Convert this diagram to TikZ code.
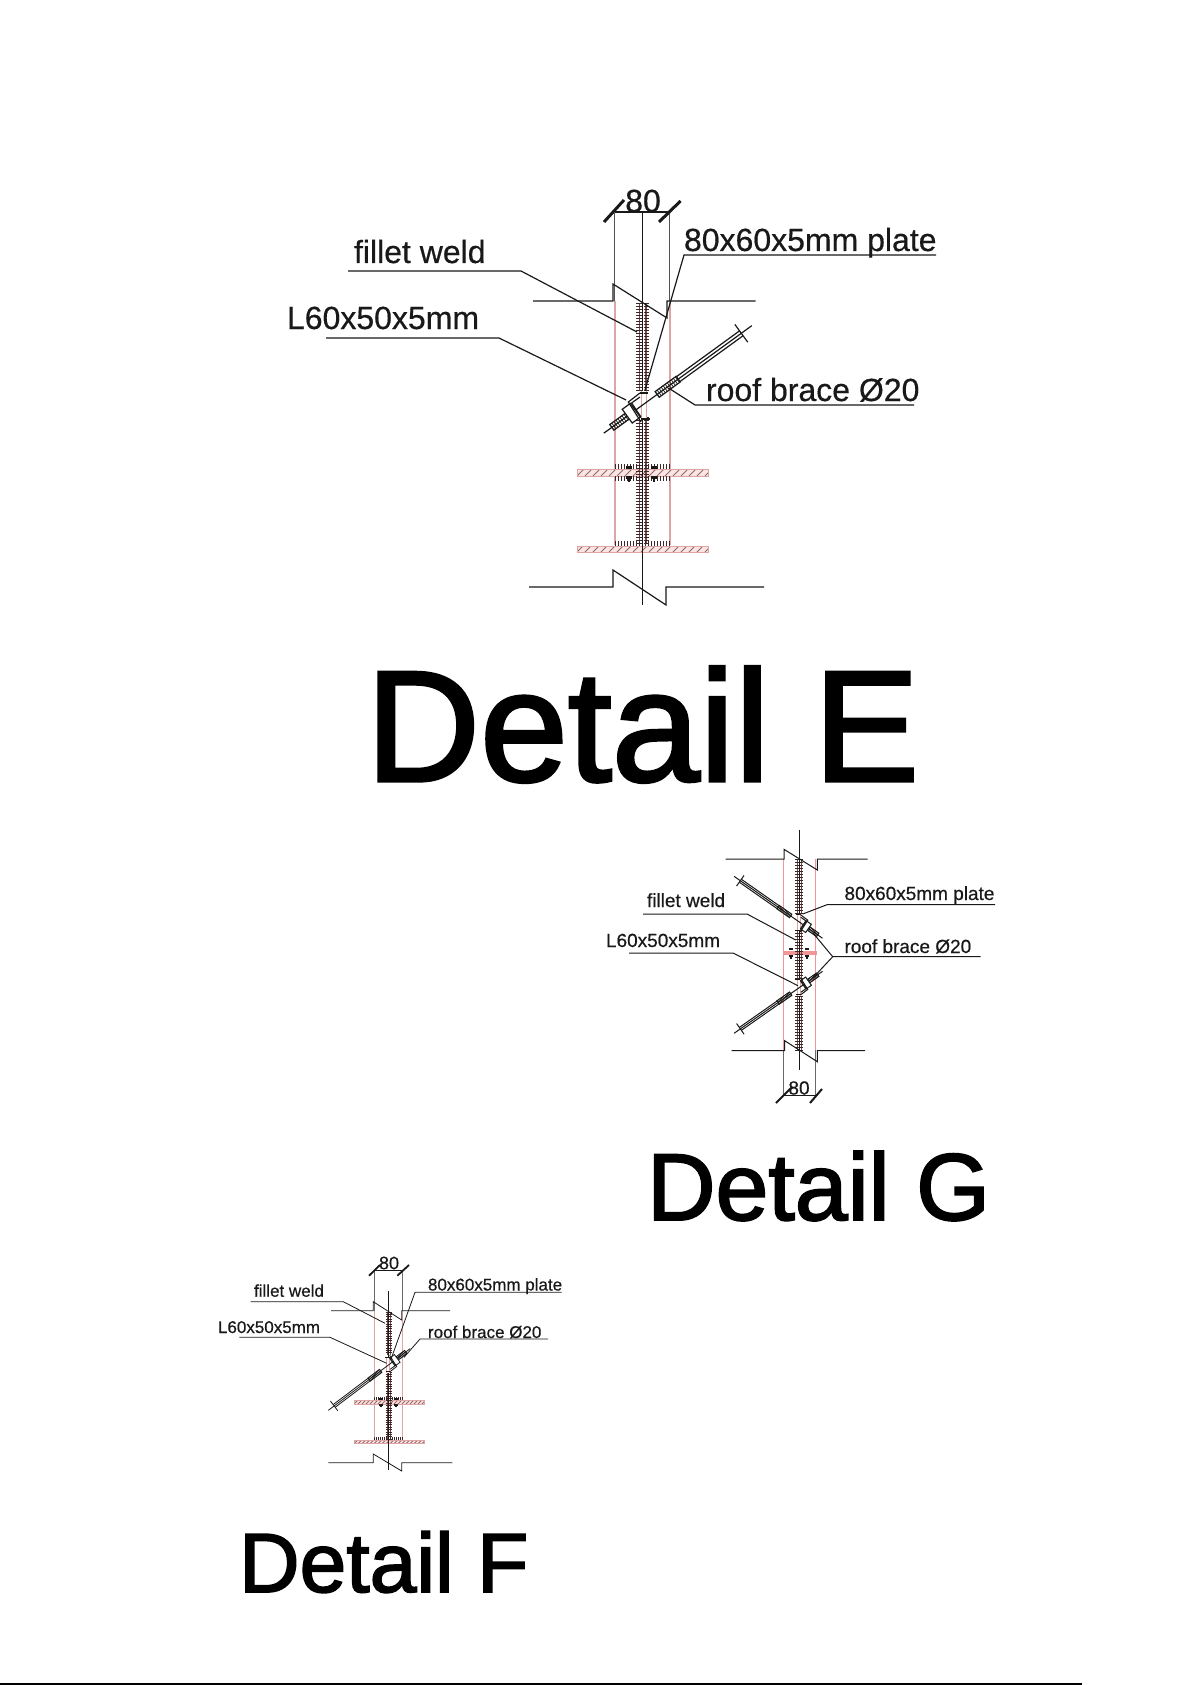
\documentclass[tikz,border=0pt]{standalone}
\usepackage{fontspec}
\setmainfont{Liberation Sans}
\newfontfamily\ttlfont[FakeBold=2]{Liberation Sans}
\newfontfamily\labfont[FakeBold=0.5]{Liberation Sans}
\definecolor{ink}{RGB}{25,25,25}
\definecolor{redline}{RGB}{222,165,165}
\definecolor{brightred}{RGB}{240,150,150}
\definecolor{weldred}{RGB}{120,70,70}
\definecolor{weldtick}{RGB}{60,40,40}
\definecolor{platefill}{RGB}{250,228,228}
\definecolor{hatchc}{RGB}{150,105,105}
\newcommand\txtsz[1]{\fontsize{#1}{#1}\selectfont}
\def\lw{1.2}
\tikzset{
  ln/.style={draw=ink,line width=\lw pt},
  redl/.style={draw=redline,line width=\lw pt},
  lab/.style={anchor=base west,inner sep=0pt,outer sep=0pt,text=ink,font=\labfont},
  ttl/.style={anchor=base west,inner sep=0pt,outer sep=0pt,text=black,font=\ttlfont},
  dimt/.style={anchor=center,inner sep=0pt,outer sep=0pt,text=ink,font=\labfont}
}
% weld column: xc, y1, y2, pitch, half width
\newcommand\weldcol[5]{%
  \draw[draw=weldred,line width=\lw pt] (#1-0.55*#5,#2) -- (#1-0.55*#5,#3);
  \draw[draw=weldred,line width=\lw pt] (#1+0.55*#5,#2) -- (#1+0.55*#5,#3);
  \pgfmathtruncatemacro\nticks{(#3-#2)/#4}
  \foreach \i in {0,...,\nticks}{
    \draw[draw=weldtick,line width=0.8pt] (#1-#5,#2+\i*#4) -- (#1-0.15*#5,#2+\i*#4)
      (#1+0.15*#5,#2+\i*#4) -- (#1+#5,#2+\i*#4);
  }}
% row of ticks: x1, x2, y1, y2, pitch
\newcommand\tickrow[5]{%
  \pgfmathtruncatemacro\nticks{(#2-#1)/#5}
  \foreach \i in {0,...,\nticks}{
    \draw[draw=weldtick,line width=0.8pt] (#1+\i*#5,#3) -- (#1+\i*#5,#4);
  }}
% hatched plate: x1, x2, y1, y2, pitch
\newcommand\hatchplate[5]{%
  \fill[platefill] (#1,#3) rectangle (#2,#4);
  \begin{scope}
  \clip (#1,#3) rectangle (#2,#4);
  \pgfmathtruncatemacro\nticks{(#2-#1)/#5}
  \foreach \i in {0,...,\nticks}{
    \draw[draw=hatchc,line width=0.9pt] (#1+\i*#5,#4) -- (#1+\i*#5+#4-#3,#3);
  }
  \end{scope}
  \draw[draw=redline,line width=0.9pt] (#1,#3) rectangle (#2,#4);}
% bolt: x, top nut y, bottom nut y, size
\newcommand\boltpair[4]{%
  \fill[ink] (#1-#4,#2-#4) rectangle (#1+#4,#2);
  \fill[ink] (#1-#4,#3) rectangle (#1+#4,#3+#4);
  \fill[ink] (#1-0.45*#4,#3+#4) rectangle (#1+0.45*#4,#3+2*#4);}
% joint: x, y, xscale, yscale, rotation (E size local coordinates)
\newcommand\jointpic[5]{%
  \begin{scope}[shift={(#1,#2)},xscale=#3,yscale=#4]
    \fill[white] (-1.5,-14) rectangle (3.5,13);
    \draw[redl] (-1.5,-14) -- (-1.5,13) (3.5,-14) -- (3.5,13);
    \begin{scope}[rotate=#5]
      \draw[ln] (-48,0) -- (135,0);
      \draw[ln] (44,-3) -- (122,-3) (44,3) -- (122,3);
      \draw[ln] (122,-11) -- (122,11);
      \draw[ln] (18,-3.5) rectangle (44,3.5);
      \foreach \t in {18,20.5,...,44}{\draw[draw=ink,line width=0.7pt] (\t,-3.5) -- (\t,3.5);}
      \draw[ln] (-38,-3.5) rectangle (-12,3.5);
      \foreach \t in {-38,-35.5,...,-12}{\draw[draw=ink,line width=0.7pt] (\t,-3.5) -- (\t,3.5);}
      \draw[ln,fill=white] (-19,-8.5) rectangle (-9,8.5);
    \end{scope}
    \draw[ln] (-2.6,-12) -- (-14.3,-3) -- (-1.6,17);
    \draw[ln] (-2.6,-8) -- (-11,-2) -- (-1.6,12);
    \draw[ln] (-1.6,14) -- (7,14) (-2.6,-12) -- (5,-12);
  \end{scope}}
\begin{document}
\begin{tikzpicture}[x=1pt,y=-1pt]
\useasboundingbox (0,0) rectangle (1192,1685);
\fill[white] (0,0) rectangle (1192,1685);
%% ---------- Detail E ----------
\def\lw{1.2}
\draw[redl] (615,301) -- (615,545) (670,301) -- (670,545);
\draw[ln,draw=ink!75] (614.5,213) -- (614.5,301) (669.5,213) -- (669.5,301);
\hatchplate{577}{708}{469}{476}{8}
\hatchplate{577}{708}{546}{552}{8}
\weldcol{642.6}{303}{390}{3}{6.2}
\weldcol{642.6}{417}{543}{3}{6.2}
\tickrow{615}{670}{464}{469}{3}
\tickrow{615}{670}{476}{481}{3}
\tickrow{615}{670}{541}{546}{3}
\boltpair{629}{469}{476}{3}
\boltpair{654}{469}{476}{3}
\draw[ln] (642.6,213) -- (642.6,605);
\jointpic{642.6}{405}{1}{1}{36}
\draw[ln] (533,301) -- (613,301) -- (613,284) -- (667,318) -- (667,301) -- (755.5,301);
\draw[ln] (529,587) -- (613,587) -- (613,570) -- (666,605) -- (666,587) -- (764,587);
\draw[ln] (614.5,212) -- (669.5,212);
\draw[draw=ink,line width=3pt] (604,222) -- (624,200) (659,222) -- (680.5,201);
\node[dimt] (eDim) at (643,201) {\txtsz{32}80};
\node[lab] (eWeld) at (354,263) {\txtsz{32}fillet weld};
\node[lab] (ePlate) at (684,251) {\txtsz{32}80x60x5mm plate};
\node[lab] (eAngle) at (287,329) {\txtsz{32}L60x50x5mm};
\node[lab] (eBrace) at (706,401) {\txtsz{32}roof brace Ø20};
\coordinate (eW1) at (348,271); \coordinate (eW2) at (521,271); \coordinate (eW3) at (637,332);
\coordinate (eP1) at (936,255); \coordinate (eP2) at (684,255); \coordinate (eP3) at (645,390);
\coordinate (eA1) at (326,338); \coordinate (eA2) at (499,338); \coordinate (eA3) at (626,400);
\coordinate (eB1) at (914,405); \coordinate (eB2) at (695,405); \coordinate (eB3) at (668.5,388);
\draw[ln] (eW1) -- (eW2) -- (eW3);
\draw[ln] (eP1) -- (eP2) -- (eP3);
\draw[ln] (eA1) -- (eA2) -- (eA3);
\draw[ln] (eB1) -- (eB2) -- (eB3);
\node[ttl] (eTitle) at (366,781) {\txtsz{158}Detail E};
%% ---------- Detail G ----------
\def\lw{1}
\draw[draw=brightred,line width=\lw pt] (783.3,859) -- (783.3,1050) (815.7,859) -- (815.7,1050);
\draw[ln,draw=ink!65] (783.3,1050) -- (783.3,1095) (815.7,1050) -- (815.7,1095);
\fill[brightred] (782.7,950.5) rectangle (816.7,954.5);
\weldcol{799.3}{859}{914}{3}{4}
\weldcol{799.3}{930}{980}{3}{4}
\weldcol{799.3}{996}{1050}{3}{4}
\boltpair{791}{950}{955}{2}
\boltpair{807}{950}{955}{2}
\draw[ln] (799.3,830) -- (799.3,1070);
\jointpic{799.3}{922}{-0.59}{0.59}{35}
\jointpic{799.3}{987.6}{-0.59}{-0.59}{35}
\draw[ln] (725.7,859) -- (784,859) -- (784,849.3) -- (817.3,870) -- (817.3,859) -- (867.7,859);
\draw[ln] (731.7,1050.7) -- (784.7,1050.7) -- (784.7,1040.7) -- (817.3,1061.7) -- (817.3,1050.7) -- (865,1050.7);
\draw[ln] (783.3,1095) -- (815.7,1095);
\draw[draw=ink,line width=2pt] (776,1103) -- (792,1087) (810,1103) -- (822,1089);
\node[dimt] (gDim) at (799,1088) {\txtsz{19}80};
\node[lab] (gWeld) at (647,907) {\txtsz{19}fillet weld};
\node[lab] (gPlate) at (844.5,900) {\txtsz{19}80x60x5mm plate};
\node[lab] (gAngle) at (606,947) {\txtsz{19}L60x50x5mm};
\node[lab] (gBrace) at (844.5,953) {\txtsz{19}roof brace Ø20};
\coordinate (gW1) at (643,914); \coordinate (gW2) at (747,914); \coordinate (gW3) at (795.7,940);
\coordinate (gP1) at (995,904.7); \coordinate (gP2) at (827,904.7); \coordinate (gP3) at (802.7,914);
\coordinate (gA1) at (629,953); \coordinate (gA2) at (733,953); \coordinate (gA3) at (798,985.7);
\coordinate (gB1) at (980.7,956.7); \coordinate (gB2) at (832.7,956.7); \coordinate (gB3) at (813,933); \coordinate (gB4) at (814,976.7);
\draw[ln] (gW1) -- (gW2) -- (gW3);
\draw[ln] (gP1) -- (gP2) -- (gP3);
\draw[ln] (gA1) -- (gA2) -- (gA3);
\draw[ln] (gB1) -- (gB2) -- (gB3);
\draw[ln] (gB2) -- (gB4);
\node[ttl] (gTitle) at (647,1220) {\txtsz{95}Detail G};
%% ---------- Detail F ----------
\def\lw{0.8}
\draw[redl] (374.3,1310.7) -- (374.3,1440) (402.3,1310.7) -- (402.3,1440);
\draw[ln,draw=ink!65] (374.3,1270) -- (374.3,1310.7) (402.3,1270) -- (402.3,1310.7);
\hatchplate{354}{424}{1400}{1404}{4}
\hatchplate{354}{424}{1440}{1443.7}{4}
\weldcol{388.7}{1312}{1355}{2.4}{3.2}
\weldcol{388.7}{1372}{1440}{2.4}{3.2}
\tickrow{374}{402}{1437}{1440}{2}
\tickrow{374}{402}{1397}{1400}{2}
\boltpair{381}{1400}{1404}{1.6}
\boltpair{396}{1400}{1404}{1.6}
\draw[ln] (388.7,1290.7) -- (388.7,1470);
\jointpic{388.7}{1364.8}{-0.56}{-0.56}{37}
\draw[ln] (331,1310.7) -- (373.3,1310.7) -- (373.3,1301.7) -- (401.7,1320) -- (401.7,1310.7) -- (450,1310.7);
\draw[ln] (328.3,1462.7) -- (373.3,1462.7) -- (373.3,1454) -- (401.7,1471) -- (401.7,1462.7) -- (452.3,1462.7);
\draw[ln] (374.3,1270) -- (402.3,1270);
\draw[draw=ink,line width=1.8pt] (369,1275.7) -- (380,1265) (397.3,1275.7) -- (409,1265);
\node[dimt] (fDim) at (389,1263) {\txtsz{18}80};
\node[lab] (fWeld) at (254,1296.7) {\txtsz{17}fillet weld};
\node[lab] (fPlate) at (428,1290.5) {\txtsz{17}80x60x5mm plate};
\node[lab] (fAngle) at (218,1333) {\txtsz{17}L60x50x5mm};
\node[lab] (fBrace) at (428,1338) {\txtsz{17}roof brace Ø20};
\coordinate (fW1) at (250.7,1301.7); \coordinate (fW2) at (343.3,1301.7); \coordinate (fW3) at (385,1323.3);
\coordinate (fP1) at (561.7,1292.3); \coordinate (fP2) at (415,1292.3); \coordinate (fP3) at (390.7,1360);
\coordinate (fA1) at (239.3,1337.3); \coordinate (fA2) at (330,1337.3); \coordinate (fA3) at (386.7,1363.3);
\coordinate (fB1) at (548,1339); \coordinate (fB2) at (420,1339); \coordinate (fB3) at (404,1357.3);
\draw[ln] (fW1) -- (fW2) -- (fW3);
\draw[ln] (fP1) -- (fP2) -- (fP3);
\draw[ln] (fA1) -- (fA2) -- (fA3);
\draw[ln] (fB1) -- (fB2) -- (fB3);
\node[ttl] (fTitle) at (239,1592) {\txtsz{84}Detail F};
%% ---------- page edge ----------
\coordinate (edgeL) at (0,1684); \coordinate (edgeR) at (1082,1684);
\draw[draw=black,line width=1.5pt] (edgeL) -- (edgeR);
\end{tikzpicture}
\end{document}
